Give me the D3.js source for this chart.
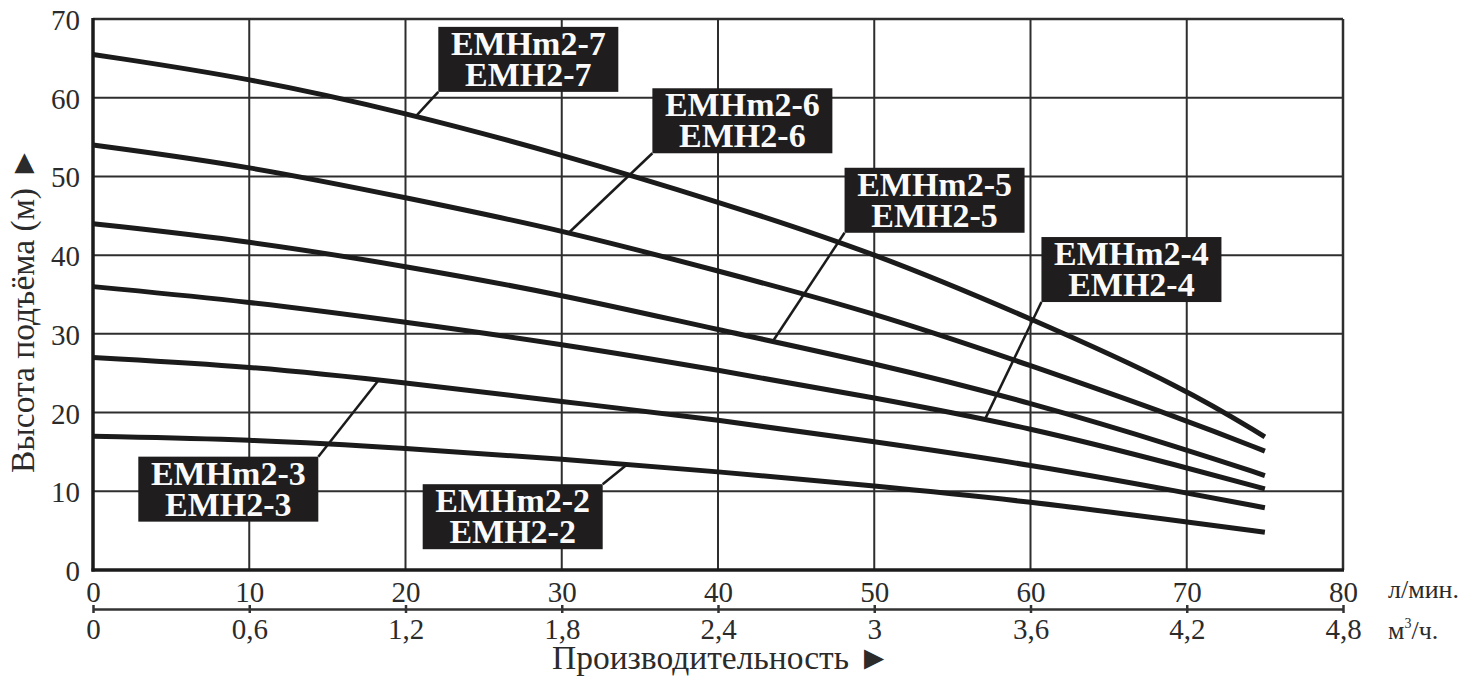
<!DOCTYPE html>
<html>
<head>
<meta charset="utf-8">
<script src="https://cdn.jsdelivr.net/npm/d3@7"></script>
<style>
  html, body { margin: 0; padding: 0; background: #fff; }
  svg { display: block; }
  text { font-family: "Liberation Serif", "Times New Roman", serif; }
</style>
</head>
<body>
<svg id="chart" width="1471" height="681"></svg>
<script>
// ---- data ----
const flowLmin = [0, 10, 20, 30, 40, 50, 60, 70, 75];
const headEMH27 = [65.5, 62.5, 58.1, 52.8, 46.8, 40.3, 32.0, 23.0, 16.9];
const headEMH26 = [54.0, 51.3, 47.3, 43.2, 38.0, 32.7, 26.0, 19.0, 15.1];
const headEMH25 = [44.0, 41.8, 38.6, 35.0, 30.5, 26.3, 21.3, 15.3, 12.0];
const headEMH24 = [36.0, 34.1, 31.5, 28.7, 25.4, 21.9, 18.1, 13.0, 10.3];
const headEMH23 = [27.0, 25.9, 23.8, 21.4, 19.1, 16.3, 13.4, 9.8, 7.9];
const headEMH22 = [17.0, 16.6, 15.5, 14.1, 12.5, 10.7, 8.7, 6.1, 4.8];

const seriesNames = [["EMHm2-7", "EMH2-7"], ["EMHm2-6", "EMH2-6"], ["EMHm2-5", "EMH2-5"],
                     ["EMHm2-4", "EMH2-4"], ["EMHm2-3", "EMH2-3"], ["EMHm2-2", "EMH2-2"]];
const seriesValues = [headEMH27, headEMH26, headEMH25, headEMH24, headEMH23, headEMH22];

const yTicks = [0, 10, 20, 30, 40, 50, 60, 70];
const xTicksLmin = [0, 10, 20, 30, 40, 50, 60, 70, 80];
const xTicksM3h = [0, 0.6, 1.2, 1.8, 2.4, 3, 3.6, 4.2, 4.8];

// the rotated title uses ► so that after rotation it points upward (▲)
const yTitle = "Высота подъёма (м) ►";
const xTitle = "Производительность ►";
const unitLmin = "л/мин.";

// label annotation placement (data space): box top-left, leader target flow, corner
const labelFlowAt = [20.7, 30.5, 43.5, 57.1, 18.3, 34.2];
const labelBoxX = [22.1, 35.8, 48.1, 60.7, 2.9, 21.1];
const labelBoxY = [69.0, 61.2, 51.1, 42.3, 14.4, 10.9];
const labelCorner = ["bl", "bl", "bl", "bl", "tr", "tr"];

// ---- layout ----
const svg = d3.select("#chart");
const x = d3.scaleLinear().domain([0, 80]).range([93, 1343]);
const x2 = d3.scaleLinear().domain([0, 4.8]).range([93, 1343]);
const y = d3.scaleLinear().domain([0, 70]).range([570, 19]);

const ink = "#1b1b1b";
const textInk = "#2b2b2b";
const serif = "Liberation Serif, Times New Roman, serif";
const locale = d3.formatLocale({decimal: ",", thousands: " ", grouping: [3], currency: ["", ""]});
const fmtComma = v => locale.format("~g")(v);

// grid
const grid = svg.append("g");
grid.selectAll("line.v").data(xTicksLmin.slice(1, -1)).join("line")
  .attr("x1", d => x(d)).attr("x2", d => x(d))
  .attr("y1", y(0)).attr("y2", y(70))
  .attr("stroke", "#2e2e2e").attr("stroke-width", 2);
grid.selectAll("line.h").data(yTicks.slice(1, -1)).join("line")
  .attr("x1", x(0)).attr("x2", x(80))
  .attr("y1", d => y(d)).attr("y2", d => y(d))
  .attr("stroke", "#2e2e2e").attr("stroke-width", 2);
// frame
grid.append("line").attr("x1", x(0)).attr("x2", x(80)).attr("y1", y(70)).attr("y2", y(70))
  .attr("stroke", "#2e2e2e").attr("stroke-width", 2.5);
grid.append("line").attr("x1", x(80)).attr("x2", x(80)).attr("y1", y(0)).attr("y2", y(70))
  .attr("stroke", "#2e2e2e").attr("stroke-width", 2.5);
grid.append("line").attr("x1", x(0)).attr("x2", x(0)).attr("y1", y(0) + 1.5).attr("y2", y(70) - 1)
  .attr("stroke", ink).attr("stroke-width", 3.5);
grid.append("line").attr("x1", x(0) - 1.5).attr("x2", x(80) + 1).attr("y1", y(0)).attr("y2", y(0))
  .attr("stroke", ink).attr("stroke-width", 3.5);

// y axis labels
const yAxis = svg.append("g").attr("transform", `translate(${x(0)},0)`)
  .call(d3.axisLeft(y).tickValues(yTicks).tickSize(0).tickPadding(13).tickFormat(d3.format("d")));
yAxis.select(".domain").remove();
yAxis.attr("font-family", serif);
yAxis.selectAll("text").attr("font-size", 29).attr("fill", textInk)
  .attr("font-family", serif).attr("dy", "0.36em");

// x axis (l/min) labels
const xAxis = svg.append("g").attr("transform", `translate(0,${y(0)})`)
  .call(d3.axisBottom(x).tickValues(xTicksLmin).tickSize(0).tickPadding(11).tickFormat(d3.format("d")));
xAxis.select(".domain").remove();
xAxis.attr("font-family", serif);
xAxis.selectAll("text").attr("font-size", 29).attr("fill", textInk)
  .attr("font-family", serif);

// second axis (m3/h)
const x2Axis = svg.append("g").attr("transform", "translate(0,609)")
  .call(d3.axisBottom(x2).tickValues(xTicksM3h).tickSizeInner(4).tickSizeOuter(0).tickPadding(5.5).tickFormat(fmtComma));
x2Axis.attr("font-family", serif);
x2Axis.select(".domain").attr("stroke", "#333").attr("stroke-width", 2.5);
x2Axis.selectAll(".tick line").attr("y1", -4).attr("y2", 4).attr("stroke", "#333").attr("stroke-width", 2.5);
x2Axis.selectAll("text").attr("font-size", 29).attr("fill", textInk)
  .attr("font-family", serif);

// units
svg.append("text").attr("x", 1388).attr("y", 598).attr("font-size", 26).attr("font-family", serif)
  .attr("fill", textInk).text(unitLmin);
const u2 = svg.append("text").attr("x", 1388).attr("y", 639).attr("font-size", 26)
  .attr("font-family", serif).attr("fill", textInk);
u2.append("tspan").text("м");
u2.append("tspan").attr("font-size", 14).attr("dy", -11).text("3");
u2.append("tspan").attr("dy", 11).text("/ч.");

// titles
svg.append("text").attr("x", 552).attr("y", 669).attr("font-size", 33.5).attr("font-family", serif)
  .attr("fill", textInk).text(xTitle);
svg.append("text").attr("transform", "translate(34,473) rotate(-90)").attr("font-family", serif)
  .attr("font-size", 33.5).attr("fill", textInk).text(yTitle);

// curves
const line = d3.line().x(d => x(d[0])).y(d => y(d[1])).curve(d3.curveBasis);
svg.append("g").selectAll("path").data(seriesValues).join("path")
  .attr("d", vals => line(flowLmin.map((f, i) => [f, vals[i]])))
  .attr("fill", "none").attr("stroke", ink).attr("stroke-width", 5)
  .attr("stroke-linecap", "butt");

// labels
const boxW = 180, boxH = 65;
const labG = svg.append("g");
seriesNames.forEach((names, i) => {
  const interp = d3.scaleLinear().domain(flowLmin).range(seriesValues[i]);
  const bx = x(labelBoxX[i]), by = y(labelBoxY[i]);
  const cx = labelCorner[i] === "bl" ? bx : bx + boxW;
  const cy = labelCorner[i] === "bl" ? by + boxH : by;
  const tf = labelFlowAt[i];
  labG.append("line").attr("x1", cx).attr("y1", cy)
    .attr("x2", x(tf)).attr("y2", y(interp(tf)))
    .attr("stroke", ink).attr("stroke-width", 2.5);
  labG.append("rect").attr("x", bx).attr("y", by).attr("width", boxW).attr("height", boxH)
    .attr("fill", "#1f1d1e");
  labG.append("text").attr("x", bx + boxW / 2).attr("y", by + 28)
    .attr("text-anchor", "middle").attr("font-size", 34).attr("font-weight", "bold")
    .attr("font-family", serif).attr("fill", "#fafafa").text(names[0]);
  labG.append("text").attr("x", bx + boxW / 2).attr("y", by + 59)
    .attr("text-anchor", "middle").attr("font-size", 34).attr("font-weight", "bold")
    .attr("font-family", serif).attr("fill", "#fafafa").text(names[1]);
});
</script>
</body>
</html>
